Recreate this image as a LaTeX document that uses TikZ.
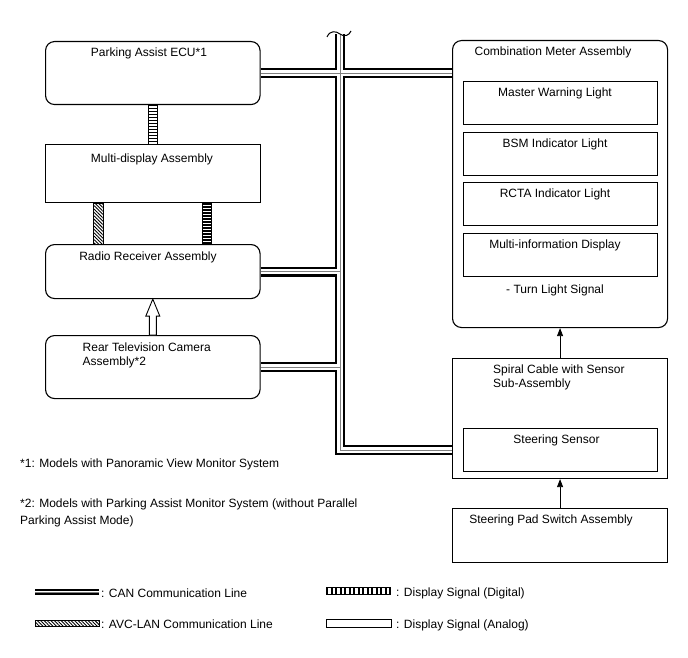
\documentclass[tikz,border=0pt]{standalone}
\usepackage{fontspec}
\setmainfont{Liberation Sans}
\usetikzlibrary{arrows.meta,patterns.meta,calc,backgrounds}
\begin{document}
\begin{tikzpicture}[x=1pt,y=-1pt,
  box/.style={draw, line width=1.1pt, minimum width=214.5pt, anchor=north west, inner sep=0pt},
  rbox/.style={box, rounded corners=9pt},
  ibox/.style={box, minimum width=194pt, minimum height=43pt},
  lbl/.style={font=\fontsize{12}{14}\selectfont, inner sep=0pt, anchor=base},
  lblw/.style={lbl, anchor=base west},
  canblack/.style={line width=10pt, black, line join=miter},
  canwhite/.style={line width=5.5pt, white, line join=miter},
  cangray/.style={line width=1pt, black!50, line join=miter},
  digout/.style={line width=10pt, black},
  digin/.style={line width=8pt, white},
  digstripe/.style={line width=8pt, black, dash pattern=on 1.4pt off 1.6pt},
  avc/.style={line width=0.8pt, pattern={Lines[angle=-45,distance=2.4pt,line width=0.9pt]}},
  arr/.style={line width=0.8pt, -{Triangle[length=8pt,width=6pt]}}
]
\begin{scope}[on background layer]
\fill[white] (0,0) rectangle (688,658);
\end{scope}
\useasboundingbox (0,0) rectangle (688,658);

% left boxes
\node[rbox, minimum height=63pt] (ecu) at (45,41) {};
\node[box, minimum height=58pt] (multi) at (45,144) {};
\node[rbox, minimum height=54pt] (radio) at (45,244) {};
\node[rbox, minimum height=63pt] (cam) at (45,335) {};

% right boxes
\node[rbox, minimum width=215pt, minimum height=287pt] (meter) at (452,40) {};
\node[ibox] (mwl) at (463,81) {};
\node[ibox] (bsm) at (463,132) {};
\node[ibox] (rcta) at (463,182) {};
\node[ibox] (mid) at (463,233) {};
\node[box, minimum width=215pt, minimum height=120pt] (spiral) at (452,358) {};
\node[ibox] (ssens) at (463,428) {};
\node[box, minimum width=215pt, minimum height=54pt] (pad) at (452,508) {};

% texts
\node[lbl] (tecu) at (149,56.5) {Parking Assist ECU*1};
\node[lbl] (tmulti) at (152,162) {Multi-display Assembly};
\node[lbl] (tradio) at (148,260) {Radio Receiver Assembly};
\node[lblw] (tcam1) at (82.5,351) {Rear Television Camera};
\node[lblw] (tcam2) at (82.5,365.5) {Assembly*2};
\node[lbl] (tmeter) at (553,55.7) {Combination Meter Assembly};
\node[lbl] (tmwl) at (555,96.7) {Master Warning Light};
\node[lbl] (tbsm) at (555,147.7) {BSM Indicator Light};
\node[lbl] (trcta) at (555,197.7) {RCTA Indicator Light};
\node[lbl] (tmid) at (555,248.7) {Multi-information Display};
\node[lbl] (tturn) at (555,293) {- Turn Light Signal};
\node[lblw] (tspiral1) at (493,373.5) {Spiral Cable with Sensor};
\node[lblw] (tspiral2) at (493,387.5) {Sub-Assembly};
\node[lbl] (tssens) at (556.5,443.5) {Steering Sensor};
\node[lbl] (tpad) at (551,523) {Steering Pad Switch Assembly};

% footnotes
\node[lblw] (fn1) at (20,467) {*1: Models with Panoramic View Monitor System};
\node[lblw] (fn2a) at (20,507) {*2: Models with Parking Assist Monitor System (without Parallel};
\node[lblw] (fn2b) at (20,524) {Parking Assist Mode)};

% CAN bus
\coordinate (bustop) at (340,34);
\begin{scope}[on background layer]
\foreach \s in {canblack,canwhite,cangray}{
  \draw[\s] (bustop) -- (bustop |- ssens.west) -- (ssens.west -| spiral.west);
  \draw[\s] (ecu.east) -- (ecu.east -| meter.west);
  \draw[\s] (radio.east) -- (radio.east -| bustop);
  \draw[\s] (cam.east) -- (cam.east -| bustop);
}
\end{scope}
% break mark at the top of the bus
\draw[line width=1pt] (327,37) .. controls (330,30) and (336,31) .. (340,34)
  .. controls (344,37) and (349,36) .. (351,31);

% digital display signal connectors
\foreach \s in {digout,digin,digstripe}{
  \draw[\s] (ecu.south) -- (multi.north);
  \draw[\s] ([xshift=54pt]multi.south) -- ([xshift=54pt]radio.north);
}
% AVC-LAN connector
\draw[avc] ($(multi.south)+(-59,0)$) rectangle ($(radio.north)+(-49,0)$);

% analog signal (hollow arrow)
\draw[line width=0.9pt, fill=white, line join=miter]
  (radio.south) -- ([shift={(7,17)}]radio.south) -- ([shift={(3.5,17)}]radio.south)
  -- ([xshift=3.5pt]cam.north) -- ([xshift=-3.5pt]cam.north)
  -- ([shift={(-3.5,17)}]radio.south) -- ([shift={(-7,17)}]radio.south) -- cycle;

% arrows on the right
\draw[arr] (spiral.north) -- (meter.south);
\draw[arr] (pad.north) -- (spiral.south);

% legend
\coordinate (lcanA) at (35,592);
\coordinate (lcanB) at (99,592);
\draw[line width=6.5pt] (lcanA) -- (lcanB);
\draw[line width=2.6pt, white] (lcanA) -- (lcanB);
\draw[line width=0.8pt, black!50] (lcanA) -- (lcanB);
\node[lblw] (lgcan) at (101,597) {: CAN Communication Line};

\draw[avc] (35,620) rectangle (99,626);
\node[lblw] (lgavc) at (101,628) {: AVC-LAN Communication Line};

\coordinate (ldigA) at (326,591);
\coordinate (ldigB) at (391,591);
\draw[line width=8pt] (ldigA) -- (ldigB);
\draw[line width=6pt, white] (ldigA) -- (ldigB);
\draw[line width=6pt, dash pattern=on 2pt off 2.5pt] (ldigA) -- (ldigB);
\node[lblw] (lgdig) at (396,596) {: Display Signal (Digital)};

\draw[line width=1pt] (326,619) rectangle (391,627);
\node[lblw] (lgana) at (396,628) {: Display Signal (Analog)};
\end{tikzpicture}
\end{document}
